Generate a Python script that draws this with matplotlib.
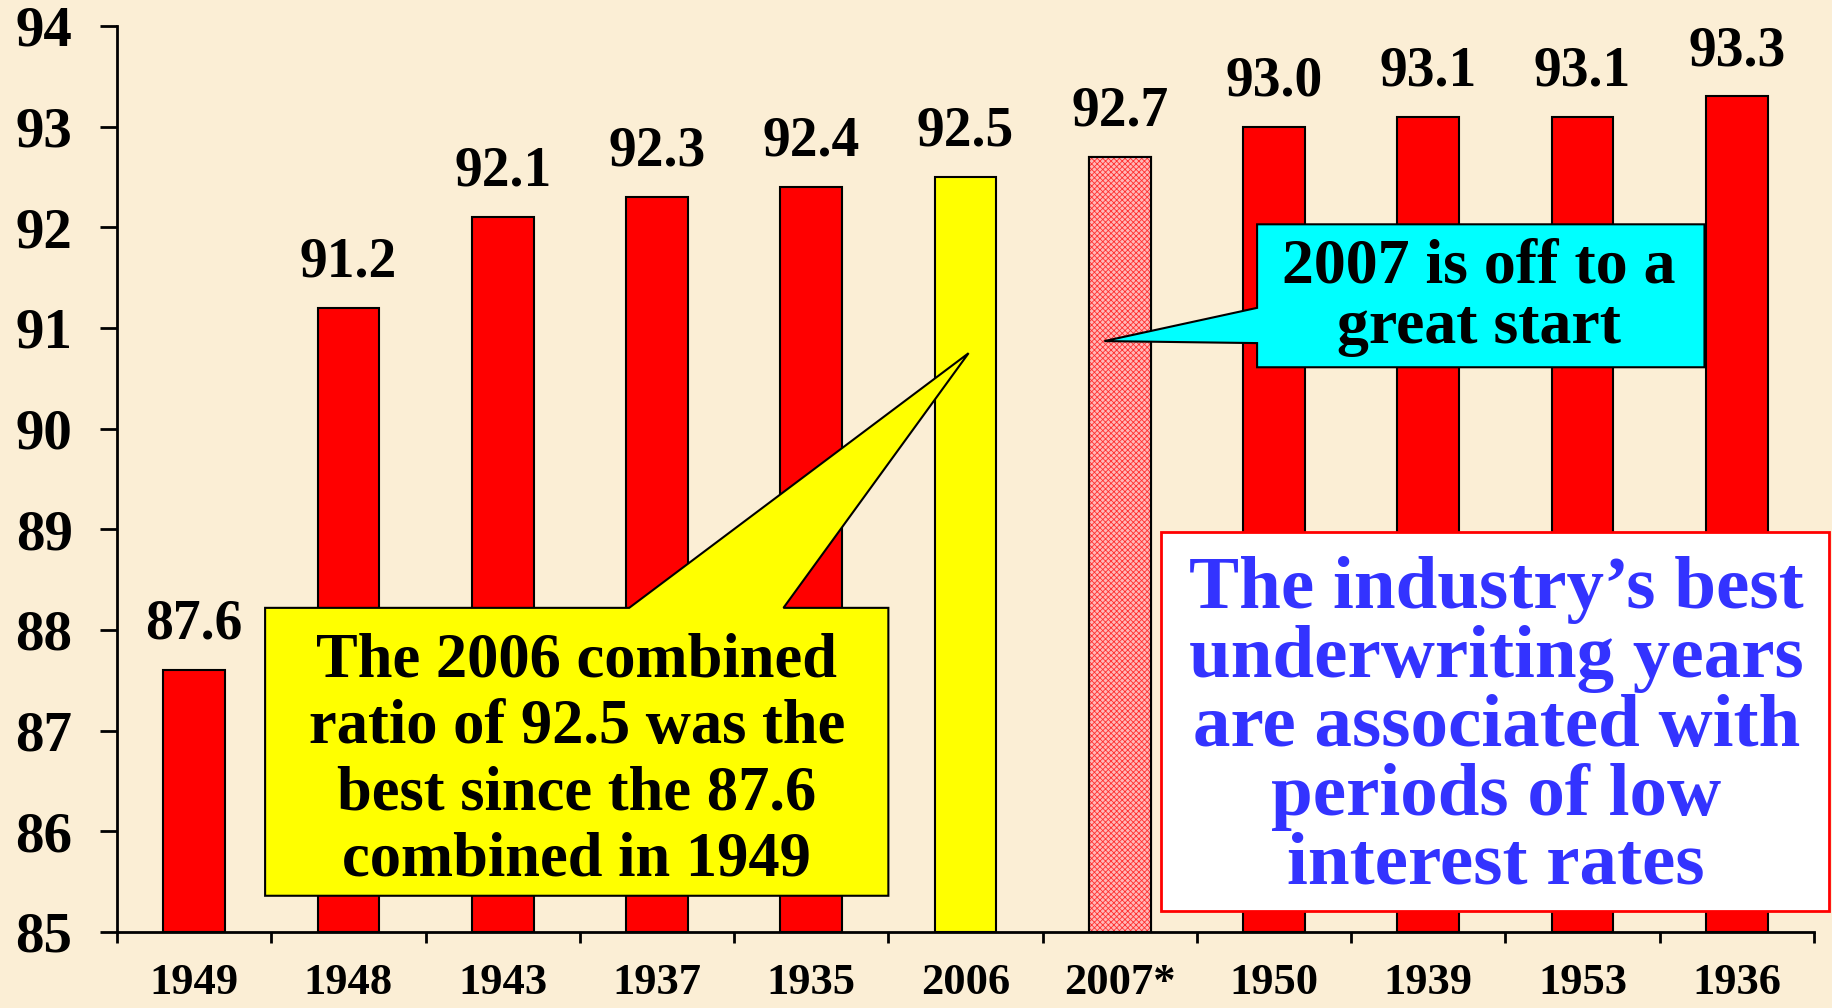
import matplotlib
matplotlib.use("Agg")
from matplotlib import pyplot as plt
from matplotlib.patches import Polygon, Rectangle

plt.rcParams['font.family'] = ['Liberation Serif', 'DejaVu Serif']
plt.rcParams['font.weight'] = 'bold'
plt.rcParams['hatch.linewidth'] = 0.6

years = ["1949", "1948", "1943", "1937", "1935", "2006", "2007*", "1950", "1939", "1953", "1936"]
ratios = [87.6, 91.2, 92.1, 92.3, 92.4, 92.5, 92.7, 93.0, 93.1, 93.1, 93.3]
yticks = [85, 86, 87, 88, 89, 90, 91, 92, 93, 94]

bg = '#fbeed5'
fig = plt.figure(figsize=(18.33, 10.08), dpi=100, facecolor=bg)
ax = fig.add_axes([117/1833, 1-932/1008, (1814-117)/1833, (932-26)/1008])
ax.set_facecolor(bg)

x = list(range(len(years)))
colors = []
for y in years:
	if y == "2006":
		colors.append('#ffff00')
	elif y == "2007*":
		colors.append('#ffb8b8')
	else:
		colors.append('#ff0000')

bars = ax.bar(x, [r - 85 for r in ratios], bottom=85, width=0.4, color=colors,
	edgecolor='black', linewidth=1.5, zorder=2)
# the 2007 bar is a fine red/white dot pattern
i07 = years.index("2007*")
ax.bar(x[i07], ratios[i07] - 85, bottom=85, width=0.4, facecolor='#ffb8b8',
	edgecolor='#ff3030', hatch='xxxxxx', linewidth=0, zorder=2)
ax.bar(x[i07], ratios[i07] - 85, bottom=85, width=0.4, fill=False,
	edgecolor='black', linewidth=1.5, zorder=3)

for xi, r in zip(x, ratios):
	ax.annotate(f"{r:.1f}", (xi, r), xytext=(0, 14), textcoords='offset points',
		ha='center', va='bottom', fontsize=40, fontweight='bold')

ax.set_xlim(-0.5, len(years) - 0.5)
ax.set_ylim(85, 94)
ax.set_yticks(yticks)
ax.set_yticklabels([str(t) for t in yticks], fontsize=41, fontweight='bold')
ax.set_xticks(x)
ax.set_xticklabels(years, fontsize=32, fontweight='bold')
ax.set_xticks([i - 0.5 for i in range(len(years) + 1)], minor=True)
ax.tick_params(axis='x', which='major', length=0, pad=22)
ax.tick_params(axis='x', which='minor', length=8, width=2, direction='out')
ax.tick_params(axis='y', length=12, width=2, pad=20)
for s in ['top', 'right']:
	ax.spines[s].set_visible(False)
for s in ['left', 'bottom']:
	ax.spines[s].set_linewidth(2)

# yellow callout
yx0, yx1, yy0, yy1 = 0.46, 4.50, 85.36, 88.22
yellow = Polygon([(yx0, yy1), (2.82, yy1), (5.02, 90.75), (3.82, yy1), (yx1, yy1),
	(yx1, yy0), (yx0, yy0)], closed=True, facecolor='#ffff00', edgecolor='black',
	linewidth=1.5, zorder=5)
ax.add_patch(yellow)
ax.text(2.48, 86.70, "The 2006 combined\nratio of 92.5 was the\nbest since the 87.6\ncombined in 1949",
	ha='center', va='center', fontsize=45, fontweight='bold', linespacing=1.19, zorder=6)

# cyan callout
cx0, cx1, cy0, cy1 = 6.89, 9.79, 90.61, 92.03
cyan = Polygon([(cx0, cy1), (cx1, cy1), (cx1, cy0), (cx0, cy0), (cx0, 90.85),
	(5.90, 90.87), (cx0, 91.20)], closed=True, facecolor='#00ffff', edgecolor='black',
	linewidth=1.5, zorder=5)
ax.add_patch(cyan)
ax.text(8.33, 91.30, "2007 is off to a\ngreat start", ha='center', va='center',
	fontsize=46, fontweight='bold', linespacing=1.05, zorder=6)

# white note box
note = Rectangle((6.27, 85.21), 10.60 - 6.27, 88.97 - 85.21, facecolor='white',
	edgecolor='#ff0000', linewidth=2, zorder=5, clip_on=False)
ax.add_patch(note)
ax.text(8.44, 87.03, "The industry\u2019s best\nunderwriting years\nare associated with\nperiods of low\ninterest rates",
	ha='center', va='center', fontsize=54, fontweight='bold', color='#3333ff',
	linespacing=1.02, zorder=6)

fig.savefig("out.png", dpi=100, facecolor=bg)
